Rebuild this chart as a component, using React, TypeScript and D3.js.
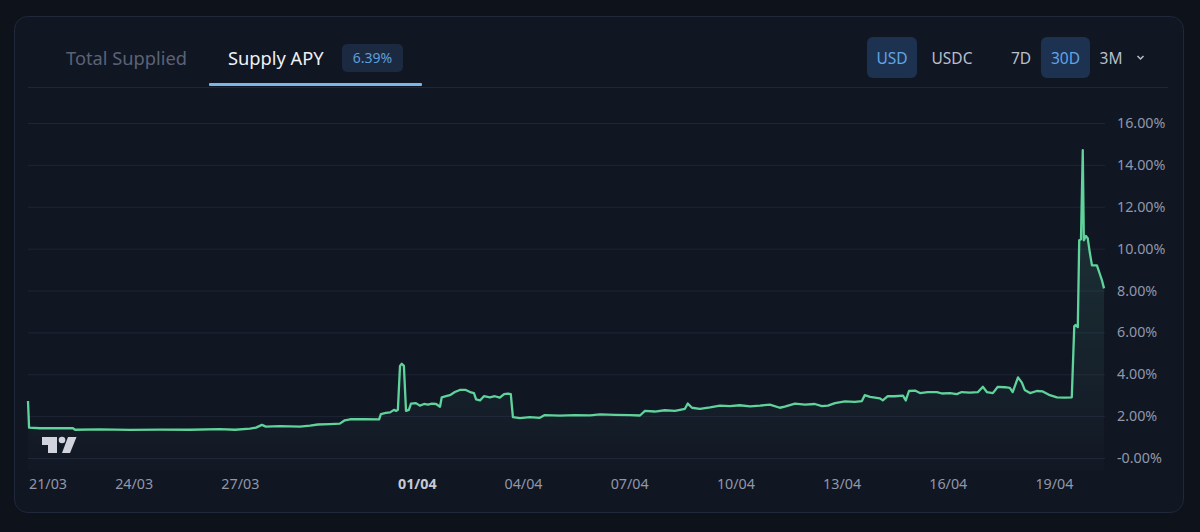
import React from 'react'
import * as d3 from 'd3'

// supply APY, days since 21/03 and value in %
const startDate = new Date(2024, 2, 21)
const dayOffsets = [
  0, 0.03, 0.34, 0.76, 1.27, 1.33, 2.03, 2.88, 3.73, 4.58, 5.42, 5.85, 6.27, 6.44, 6.61, 6.72,
  7.12, 7.68, 7.97, 8.19, 8.53, 8.81, 8.95, 9.1, 9.52, 9.92, 9.97, 10.11, 10.23, 10.34, 10.4,
  10.45, 10.51, 10.56, 10.62, 10.68, 10.76, 10.82, 10.96, 11.07, 11.19, 11.3, 11.41, 11.53,
  11.64, 11.69, 11.81, 11.92, 12.06, 12.2, 12.37, 12.49, 12.6, 12.66, 12.77, 12.88, 13.05,
  13.19, 13.33, 13.45, 13.56, 13.64, 13.7, 13.9, 14.18, 14.46, 14.6, 15.03, 15.45, 15.88,
  16.16, 16.58, 17.01, 17.29, 17.43, 17.71, 17.99, 18.28, 18.56, 18.64, 18.76, 18.98, 19.27,
  19.55, 19.83, 20.11, 20.4, 20.68, 20.96, 21.24, 21.38, 21.67, 21.95, 22.23, 22.43, 22.6,
  22.8, 23.08, 23.36, 23.56, 23.64, 23.79, 24.07, 24.15, 24.29, 24.49, 24.72, 24.8, 24.89,
  25.06, 25.2, 25.42, 25.68, 25.82, 26.05, 26.24, 26.38, 26.61, 26.84, 26.98, 27.09, 27.26,
  27.4, 27.6, 27.74, 27.82, 27.97, 28.08, 28.16, 28.31, 28.5, 28.67, 28.87, 29.07, 29.29,
  29.49, 29.56, 29.6, 29.66, 29.7, 29.75, 29.8, 29.83, 29.89, 29.94, 30.0, 30.06, 30.2, 30.28,
  30.34, 30.4,
]
const apyValues = [
  2.72, 1.45, 1.42, 1.43, 1.42, 1.35, 1.37, 1.34, 1.36, 1.35, 1.38, 1.35, 1.4, 1.45, 1.58, 1.5,
  1.52, 1.5, 1.55, 1.6, 1.62, 1.64, 1.8, 1.85, 1.86, 1.84, 2.1, 2.15, 2.18, 2.3, 2.25,
  2.3, 4.4, 4.5, 4.4, 2.25, 2.3, 2.6, 2.62, 2.5, 2.58, 2.55, 2.6, 2.58,
  2.45, 2.9, 2.95, 3.0, 3.15, 3.25, 3.25, 3.15, 3.1, 2.8, 2.75, 2.95, 2.9,
  2.95, 2.88, 3.05, 3.08, 3.05, 1.95, 1.9, 1.95, 1.92, 2.05, 2.02, 2.05, 2.04,
  2.08, 2.06, 2.05, 2.03, 2.25, 2.22, 2.28, 2.25, 2.35, 2.6, 2.4, 2.35, 2.42,
  2.5, 2.48, 2.52, 2.47, 2.5, 2.55, 2.4, 2.45, 2.6, 2.55, 2.58, 2.48, 2.5,
  2.62, 2.7, 2.68, 2.72, 3.0, 2.92, 2.85, 2.75, 2.95, 2.95, 2.98, 2.75, 3.2,
  3.22, 3.1, 3.15, 3.15, 3.08, 3.1, 3.05, 3.15, 3.12, 3.15, 3.4, 3.15, 3.1,
  3.4, 3.38, 3.35, 3.15, 3.85, 3.6, 3.25, 3.1, 3.2, 3.18, 3.0, 2.9, 2.88,
  2.9, 6.3, 6.35, 6.25, 10.4, 10.45, 14.7, 10.4, 10.6, 10.5, 9.8, 9.2, 9.2, 8.8,
  8.5, 8.1,
]
const yTicks = [0, 2, 4, 6, 8, 10, 12, 14, 16]
const yTickLabels = ['-0.00%', '2.00%', '4.00%', '6.00%', '8.00%', '10.00%', '12.00%', '14.00%', '16.00%']
const xTickDays = [0, 3, 6, 11, 14, 17, 20, 23, 26, 29]
const xTickLabels = ['21/03', '24/03', '27/03', '01/04', '04/04', '07/04', '10/04', '13/04', '16/04', '19/04']

const FONT = '"Noto Sans", "Open Sans", sans-serif'
const LINE = '#5fd39b'

export default function App() {
  const data = dayOffsets.map((d, i) => ({
    date: new Date(startDate.getTime() + d * 86400000),
    value: apyValues[i],
  }))
  const endDate = new Date(startDate.getTime() + 30.4 * 86400000)

  const x = d3.scaleTime().domain([startDate, endDate]).range([28, 1104])
  const y = d3.scaleLinear().domain([0, 16]).range([458, 123])

  const line = d3
    .line<{ date: Date; value: number }>()
    .x((d) => x(d.date))
    .y((d) => y(d.value))
  const area = d3
    .area<{ date: Date; value: number }>()
    .x((d) => x(d.date))
    .y0(470)
    .y1((d) => y(d.value))

  return (
    <div style={{ position: 'fixed', left: 0, top: 0, width: 1200, height: 532, background: '#0e121b' }}>
      <svg width={1200} height={532} style={{ display: 'block', fontFamily: FONT }}>
        <defs>
          <linearGradient id="fillGrad" gradientUnits="userSpaceOnUse" x1="0" y1="123" x2="0" y2="470">
            <stop offset="0%" stopColor="#3c7a6a" stopOpacity={0.35} />
            <stop offset="100%" stopColor="#3c7a6a" stopOpacity={0.02} />
          </linearGradient>
        </defs>
        <rect x={14.5} y={16.5} width={1169} height={496} rx={13} fill="#111623" stroke="#20283a" />

        {/* tabs */}
        <text x={66} y={65} fontSize={18.3} fill="#5a6376">Total Supplied</text>
        <text x={228} y={65} fontSize={18.3} fill="#eef1f5">Supply APY</text>
        <rect x={342} y={44} width={61} height={28} rx={5} fill="#1b2a40" />
        <text x={372.5} y={63} fontSize={14} fill="#5d9fdc" textAnchor="middle">6.39%</text>
        <line x1={28} x2={1168} y1={87.5} y2={87.5} stroke="#1f2737" />
        <rect x={209} y={83} width={213} height={3} rx={1} fill="#7cb6e6" />

        {/* right controls */}
        <rect x={867} y={37} width={50} height={41} rx={6} fill="#1d3250" />
        <text x={892} y={63.5} fontSize={15.5} fill="#61a5e6" textAnchor="middle">USD</text>
        <text x={952} y={63.5} fontSize={15.5} fill="#b7bfcc" textAnchor="middle">USDC</text>
        <text x={1021} y={63.5} fontSize={15.5} fill="#b7bfcc" textAnchor="middle">7D</text>
        <rect x={1041} y={37} width={49} height={41} rx={6} fill="#1d3250" />
        <text x={1065.5} y={63.5} fontSize={15.5} fill="#61a5e6" textAnchor="middle">30D</text>
        <text x={1111} y={63.5} fontSize={15.5} fill="#b7bfcc" textAnchor="middle">3M</text>
        <path d="M1137.5,56 L1140.5,59 L1143.5,56" fill="none" stroke="#b7bfcc" strokeWidth={1.5} />

        {/* grid */}
        {yTicks.map((t) => (
          <line key={t} x1={28} x2={1105} y1={y(t) + 0.5} y2={y(t) + 0.5} stroke="#1e2535" />
        ))}

        <path d={area(data) ?? ''} fill="url(#fillGrad)" />
        <path d={line(data) ?? ''} fill="none" stroke={LINE} strokeWidth={2.3} strokeLinejoin="round" />

        {/* y labels */}
        {yTicks.map((t, i) => (
          <text key={t} x={1117} y={y(t) + 5} fontSize={14.3} fill="#8f98aa">{yTickLabels[i]}</text>
        ))}

        {/* x labels */}
        {xTickDays.map((d, i) => {
          const px = x(new Date(startDate.getTime() + d * 86400000))
          const first = i === 0
          const bold = xTickLabels[i] === '01/04'
          return (
            <text
              key={d}
              x={first ? px + 1 : px}
              y={489}
              fontSize={14.3}
              fill={bold ? '#c3cad6' : '#8f98aa'}
              fontWeight={bold ? 700 : 400}
              textAnchor={first ? 'start' : 'middle'}
            >
              {xTickLabels[i]}
            </text>
          )
        })}

        {/* tradingview logo */}
        <g fill="#d1d4dc">
          <path d="M42,437 H57 V453 H48 V445 H42 Z" />
          <circle cx={62} cy={440} r={3.3} />
          <path d="M68,437 H76.5 L70,453 H62 Z" />
        </g>
      </svg>
    </div>
  )
}
